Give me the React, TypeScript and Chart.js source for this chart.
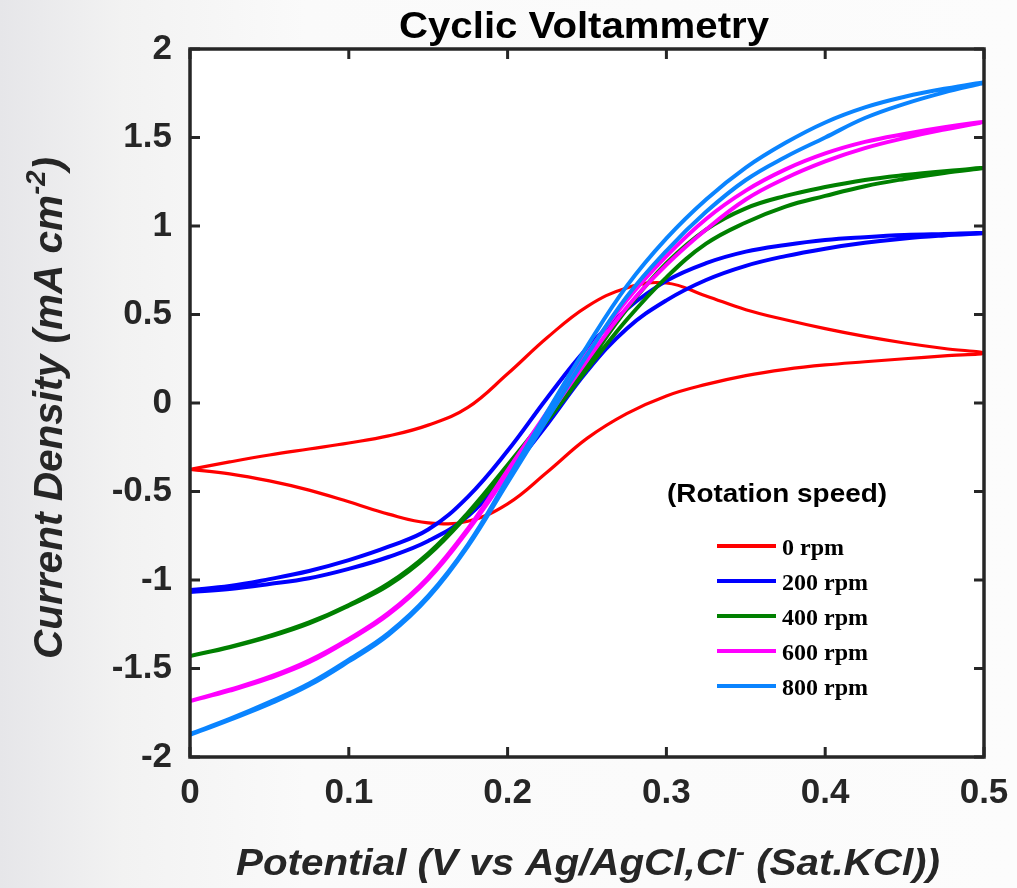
import React, { useEffect, useRef } from "react";
import { Chart, registerables } from "chart.js";

Chart.register(...registerables);

// ---------- data ----------
const POTENTIAL = [0, 0.025, 0.05, 0.075, 0.1, 0.125, 0.15, 0.175, 0.2, 0.225, 0.25, 0.275, 0.3, 0.325, 0.35, 0.375, 0.4, 0.425, 0.45, 0.475, 0.5];

const RPM0_FWD = [-0.375, -0.333, -0.294, -0.26, -0.226, -0.186, -0.125, -0.025, 0.165, 0.37, 0.545, 0.65, 0.678, 0.605, 0.527, 0.47, 0.42, 0.376, 0.339, 0.308, 0.282];
const RPM0_REV = [-0.375, -0.4, -0.44, -0.492, -0.558, -0.628, -0.677, -0.668, -0.57, -0.39, -0.2, -0.06, 0.04, 0.105, 0.155, 0.19, 0.215, 0.233, 0.25, 0.266, 0.282];

const RPM200_FWD = [-1.056, -1.034, -0.995, -0.949, -0.888, -0.812, -0.715, -0.53, -0.27, 0.03, 0.31, 0.53, 0.69, 0.79, 0.855, 0.893, 0.921, 0.937, 0.949, 0.955, 0.96];
const RPM200_REV = [-1.068, -1.051, -1.023, -0.99, -0.937, -0.87, -0.78, -0.64, -0.4, -0.12, 0.18, 0.42, 0.58, 0.695, 0.775, 0.83, 0.872, 0.905, 0.93, 0.947, 0.96];

const RPM400_FWD = [-1.429, -1.378, -1.316, -1.24, -1.141, -1.02, -0.85, -0.62, -0.35, -0.07, 0.22, 0.53, 0.79, 0.98, 1.1, 1.17, 1.22, 1.26, 1.288, 1.31, 1.328];
const RPM400_REV = [-1.429, -1.38, -1.32, -1.245, -1.145, -1.03, -0.86, -0.63, -0.37, -0.1, 0.19, 0.47, 0.71, 0.9, 1.02, 1.11, 1.17, 1.225, 1.266, 1.3, 1.328];

const RPM600_FWD = [-1.684, -1.62, -1.548, -1.455, -1.333, -1.186, -0.985, -0.71, -0.38, -0.05, 0.28, 0.58, 0.83, 1.04, 1.2, 1.32, 1.41, 1.475, 1.52, 1.558, 1.588];
const RPM600_REV = [-1.684, -1.625, -1.555, -1.465, -1.34, -1.195, -0.995, -0.72, -0.4, -0.08, 0.24, 0.54, 0.78, 0.98, 1.15, 1.27, 1.365, 1.44, 1.497, 1.545, 1.588];

const RPM800_FWD = [-1.87, -1.785, -1.69, -1.585, -1.45, -1.3, -1.09, -0.8, -0.43, -0.05, 0.32, 0.66, 0.93, 1.15, 1.33, 1.47, 1.585, 1.67, 1.73, 1.775, 1.81];
const RPM800_REV = [-1.875, -1.79, -1.7, -1.595, -1.46, -1.31, -1.1, -0.81, -0.45, -0.09, 0.27, 0.6, 0.86, 1.08, 1.26, 1.39, 1.5, 1.61, 1.69, 1.755, 1.81];

const SERIES_LABELS = ["0 rpm", "200 rpm", "400 rpm", "600 rpm", "800 rpm"];
const SERIES_COLORS = ["#ff0000", "#0000ff", "#008000", "#ff00ff", "#0a84ff"];
const SERIES_FWD = [RPM0_FWD, RPM200_FWD, RPM400_FWD, RPM600_FWD, RPM800_FWD];
const SERIES_REV = [RPM0_REV, RPM200_REV, RPM400_REV, RPM600_REV, RPM800_REV];

const X_TICKS = [0, 0.1, 0.2, 0.3, 0.4, 0.5];
const Y_TICKS = [-2, -1.5, -1, -0.5, 0, 0.5, 1, 1.5, 2];

const TITLE = "Cyclic Voltammetry";
const LEGEND_TITLE = "(Rotation speed)";
const Y_LABEL = [
  { t: "Current Density (mA cm", sup: false },
  { t: "-2", sup: true },
  { t: ")", sup: false },
];
const X_LABEL = [
  { t: "Potential (V vs Ag/AgCl,Cl", sup: false },
  { t: "-", sup: true },
  { t: " (Sat.KCl))", sup: false },
];

// ---------- helpers ----------
const SANS = '"Liberation Sans", Arial, sans-serif';
const SERIF = '"Liberation Serif", "Times New Roman", serif';

function loop(fwd: number[], rev: number[]) {
  const pts = POTENTIAL.map((v, i) => ({ x: v, y: fwd[i] }));
  for (let i = POTENTIAL.length - 2; i >= 0; i--) pts.push({ x: POTENTIAL[i], y: rev[i] });
  return pts;
}

function drawRich(
  ctx: CanvasRenderingContext2D,
  segs: { t: string; sup: boolean }[],
  size: number,
  style: string,
  cx: number,
  baseY: number,
  targetW: number,
  rot: number,
  color: string
) {
  const mainFont = `${style} ${size}px ${SANS}`;
  const supFont = `${style} ${Math.round(size * 0.68)}px ${SANS}`;
  let total = 0;
  const widths = segs.map((s) => {
    ctx.font = s.sup ? supFont : mainFont;
    const w = ctx.measureText(s.t).width;
    total += w;
    return w;
  });
  const sx = targetW / total;
  ctx.save();
  ctx.translate(cx, baseY);
  ctx.rotate(rot);
  ctx.scale(sx, 1);
  ctx.fillStyle = color;
  ctx.textBaseline = "alphabetic";
  ctx.textAlign = "left";
  let x = -total / 2;
  segs.forEach((s, i) => {
    ctx.font = s.sup ? supFont : mainFont;
    ctx.fillText(s.t, x, s.sup ? -size * 0.42 : 0);
    x += widths[i];
  });
  ctx.restore();
}

const decor = {
  id: "decor",
  beforeDraw(chart: any) {
    const { ctx, chartArea: a, width, height } = chart;
    ctx.save();
    const g = ctx.createLinearGradient(0, 0, width, 0);
    g.addColorStop(0, "#e6e6e9");
    g.addColorStop(0.12, "#f2f2f2");
    g.addColorStop(0.3, "#fafafa");
    g.addColorStop(1, "#fcfcfc");
    ctx.fillStyle = g;
    ctx.fillRect(0, 0, width, height);
    ctx.fillStyle = "#ffffff";
    ctx.fillRect(a.left, a.top, a.right - a.left, a.bottom - a.top);
    ctx.restore();
  },
  afterDraw(chart: any) {
    const { ctx, chartArea: a } = chart;
    const xs = chart.scales.x;
    const ys = chart.scales.y;
    ctx.save();
    // inward ticks
    ctx.strokeStyle = "#262626";
    ctx.lineWidth = 3;
    const tl = 10;
    X_TICKS.forEach((v) => {
      const px = xs.getPixelForValue(v);
      ctx.beginPath();
      ctx.moveTo(px, a.bottom);
      ctx.lineTo(px, a.bottom - tl);
      ctx.moveTo(px, a.top);
      ctx.lineTo(px, a.top + tl);
      ctx.stroke();
    });
    Y_TICKS.forEach((v) => {
      const py = ys.getPixelForValue(v);
      ctx.beginPath();
      ctx.moveTo(a.left, py);
      ctx.lineTo(a.left + tl, py);
      ctx.moveTo(a.right, py);
      ctx.lineTo(a.right - tl, py);
      ctx.stroke();
    });
    // frame
    ctx.lineWidth = 3.5;
    ctx.strokeRect(a.left, a.top, a.right - a.left, a.bottom - a.top);

    // title
    drawRich(ctx, [{ t: TITLE, sup: false }], 36, "bold", 584, 38, 370, 0, "#000000");
    // axis titles
    drawRich(ctx, X_LABEL, 36, "italic bold", 588, 875, 704, 0, "#262626");
    drawRich(ctx, Y_LABEL, 40, "italic bold", 62, 408, 502, -Math.PI / 2, "#262626");

    // legend
    drawRich(ctx, [{ t: LEGEND_TITLE, sup: false }], 26, "bold", 777, 502, 220, 0, "#000000");
    const rows = chart.data.datasets;
    rows.forEach((ds: any, i: number) => {
      const cy = 546 + i * 35;
      ctx.strokeStyle = ds.borderColor;
      ctx.lineWidth = 4;
      ctx.lineCap = "butt";
      ctx.beginPath();
      ctx.moveTo(717, cy);
      ctx.lineTo(776, cy);
      ctx.stroke();
      ctx.fillStyle = "#000000";
      ctx.font = `bold 24px ${SERIF}`;
      ctx.textAlign = "left";
      ctx.textBaseline = "alphabetic";
      ctx.fillText(ds.label, 782, cy + 9);
    });
    ctx.restore();
  },
};

export default function App() {
  const ref = useRef<HTMLCanvasElement | null>(null);
  useEffect(() => {
    if (!ref.current) return;
    const datasets = SERIES_LABELS.map((label, i) => ({
      label,
      data: loop(SERIES_FWD[i], SERIES_REV[i]),
      borderColor: SERIES_COLORS[i],
      backgroundColor: SERIES_COLORS[i],
      borderWidth: i === 0 ? 3.2 : 4,
      pointRadius: 0,
      tension: 0.4,
      fill: false,
      borderJoinStyle: "round" as const,
      borderCapStyle: "round" as const,
      order: SERIES_LABELS.length - i,
    }));
    const chart = new Chart(ref.current, {
      type: "line",
      data: { datasets },
      options: {
        animation: false,
        responsive: false,
        maintainAspectRatio: false,
        layout: { padding: { left: 0, top: 49, right: 33, bottom: 0 } },
        plugins: { legend: { display: false }, tooltip: { enabled: false }, title: { display: false } },
        scales: {
          x: {
            type: "linear",
            min: 0,
            max: 0.5,
            afterFit: (s: any) => {
              s.height = 131;
              s.paddingLeft = 0;
              s.paddingRight = 0;
            },
            afterBuildTicks: (s: any) => {
              s.ticks = X_TICKS.map((v) => ({ value: v }));
            },
            grid: { display: false, drawTicks: false },
            border: { display: false },
            ticks: {
              autoSkip: false,
              maxRotation: 0,
              padding: 15,
              color: "#262626",
              font: { family: SANS, size: 35, weight: "bold" },
              callback: (v: any) => String(Number(Number(v).toFixed(1))),
            },
          },
          y: {
            type: "linear",
            min: -2,
            max: 2,
            afterFit: (s: any) => {
              s.width = 190;
              s.paddingTop = 0;
              s.paddingBottom = 0;
            },
            afterBuildTicks: (s: any) => {
              s.ticks = Y_TICKS.map((v) => ({ value: v }));
            },
            grid: { display: false, drawTicks: false },
            border: { display: false },
            ticks: {
              autoSkip: false,
              padding: 18,
              color: "#262626",
              font: { family: SANS, size: 35, weight: "bold" },
              callback: (v: any) => String(Number(Number(v).toFixed(1))),
            },
          },
        },
      },
      plugins: [decor],
    });
    return () => chart.destroy();
  }, []);
  return (
    <div style={{ position: "fixed", left: 0, top: 0, width: 1017, height: 888 }}>
      <canvas ref={ref} width={1017} height={888} style={{ display: "block", width: 1017, height: 888 }} />
    </div>
  );
}
